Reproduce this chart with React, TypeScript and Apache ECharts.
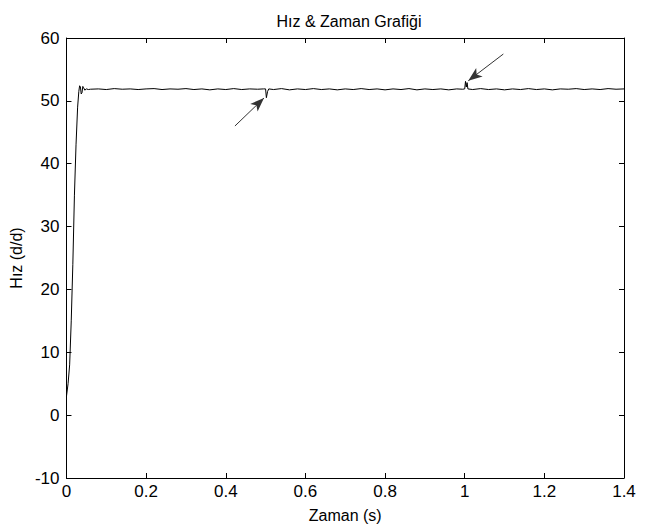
import React, { useEffect, useRef } from "react";
import * as echarts from "echarts";

const titleText = "Hız & Zaman Grafiği";
const xName = "Zaman (s)";
const yName = "Hız (d/d)";

const times = [
  0, 0.004, 0.008, 0.012, 0.016, 0.02, 0.024, 0.028, 0.031, 0.033, 0.035, 0.037, 0.039, 0.041, 0.043, 0.046, 0.05, 0.055, 0.06,
  0.08, 0.1, 0.12, 0.14, 0.16, 0.18, 0.2, 0.22, 0.24, 0.26, 0.28, 0.3, 0.32, 0.34, 0.36, 0.38, 0.4, 0.42, 0.44, 0.46, 0.48,
  0.495, 0.5, 0.502, 0.505, 0.508, 0.52, 0.54, 0.56, 0.58, 0.6, 0.62, 0.64, 0.66, 0.68, 0.7, 0.72, 0.74, 0.76, 0.78, 0.8,
  0.82, 0.84, 0.86, 0.88, 0.9, 0.92, 0.94, 0.96, 0.98, 0.995, 1.0, 1.002, 1.004, 1.006, 1.008, 1.02, 1.04, 1.06, 1.08, 1.1,
  1.12, 1.14, 1.16, 1.18, 1.2, 1.22, 1.24, 1.26, 1.28, 1.3, 1.32, 1.34, 1.36, 1.38, 1.4,
];

const speeds = [
  3, 5, 8, 15, 24, 35, 43, 49, 51.5, 52.4, 52.2, 51.1, 51.3, 52.3, 52.1, 51.7, 51.9, 51.8, 51.85,
  51.9, 51.8, 51.95, 51.85, 51.9, 51.8, 51.9, 51.95, 51.8, 51.9, 51.85, 51.95, 51.8, 51.9, 51.75, 51.9, 51.8, 51.95, 51.8, 51.9, 51.85,
  51.9, 51.9, 50.5, 51.5, 51.9, 51.8, 51.95, 51.75, 51.9, 51.8, 51.95, 51.8, 51.9, 51.75, 51.9, 51.8, 51.95, 51.8, 51.9, 51.75,
  51.9, 51.8, 51.95, 51.75, 51.9, 51.8, 51.9, 51.75, 51.9, 51.85, 51.9, 53.1, 52.2, 52.9, 51.9, 51.8, 51.95, 51.8, 51.9, 51.75,
  51.9, 51.8, 51.95, 51.8, 51.9, 51.75, 51.9, 51.85, 51.95, 51.8, 51.9, 51.8, 51.95, 51.85, 51.9,
];

// Arrow annotations: [tailX, tailY, headX, headY]
const arrow1 = [0.423, 46.0, 0.496, 50.45];
const arrow2 = [1.097, 57.45, 1.009, 53.2];

const FONT = "'Liberation Sans', Arial, sans-serif";

export default function App() {
  const ref = useRef<HTMLDivElement>(null);
  useEffect(() => {
    if (!ref.current) return;
    const chart = echarts.init(ref.current, null, { renderer: "svg" });
    const data = times.map((t, i) => [t, speeds[i]]);
    const axisCommon = {
      axisLine: { show: true, onZero: false, lineStyle: { color: "#000", width: 1 } },
      axisTick: { show: true, inside: true, length: 5, lineStyle: { color: "#000" } },
      splitLine: { show: false },
    };
    chart.setOption({
      animation: false,
      backgroundColor: "#fff",
      textStyle: { fontFamily: FONT },
      title: {
        text: titleText,
        left: 344,
        textAlign: "center",
        top: 8,
        textStyle: { fontFamily: FONT, fontSize: 16, fontWeight: "normal", color: "#000" },
      },
      grid: { left: 65, right: 37, top: 38, bottom: 53, containLabel: false },
      xAxis: [
        {
          type: "value",
          min: 0,
          max: 1.4,
          interval: 0.2,
          position: "bottom",
          name: xName,
          nameLocation: "middle",
          nameGap: 29,
          nameTextStyle: { fontFamily: FONT, fontSize: 16, color: "#000" },
          axisLabel: { fontFamily: FONT, fontSize: 17, color: "#000", margin: 5 },
          ...axisCommon,
        },
        {
          type: "value",
          min: 0,
          max: 1.4,
          interval: 0.2,
          position: "top",
          axisLabel: { show: false },
          ...axisCommon,
        },
      ],
      yAxis: [
        {
          type: "value",
          min: -10,
          max: 60,
          interval: 10,
          position: "left",
          name: yName,
          nameLocation: "middle",
          nameGap: 38,
          nameTextStyle: { fontFamily: FONT, fontSize: 16, color: "#000" },
          axisLabel: { fontFamily: FONT, fontSize: 17, color: "#000", margin: 7 },
          ...axisCommon,
        },
        {
          type: "value",
          min: -10,
          max: 60,
          interval: 10,
          position: "right",
          axisLabel: { show: false },
          ...axisCommon,
        },
      ],
      series: [
        {
          type: "line",
          data,
          showSymbol: false,
          symbol: "none",
          lineStyle: { color: "#000", width: 1 },
          markLine: {
            silent: true,
            symbol: ["none", "arrow"],
            symbolSize: [8, 14],
            label: { show: false },
            lineStyle: { color: "#333", width: 1, type: "solid" },
            data: [
              [{ coord: [arrow1[0], arrow1[1]] }, { coord: [arrow1[2], arrow1[3]] }],
              [{ coord: [arrow2[0], arrow2[1]] }, { coord: [arrow2[2], arrow2[3]] }],
            ],
          },
        },
      ],
    });
    return () => chart.dispose();
  }, []);
  return <div ref={ref} style={{ width: 661, height: 531, position: "absolute", left: 0, top: 0 }} />;
}
